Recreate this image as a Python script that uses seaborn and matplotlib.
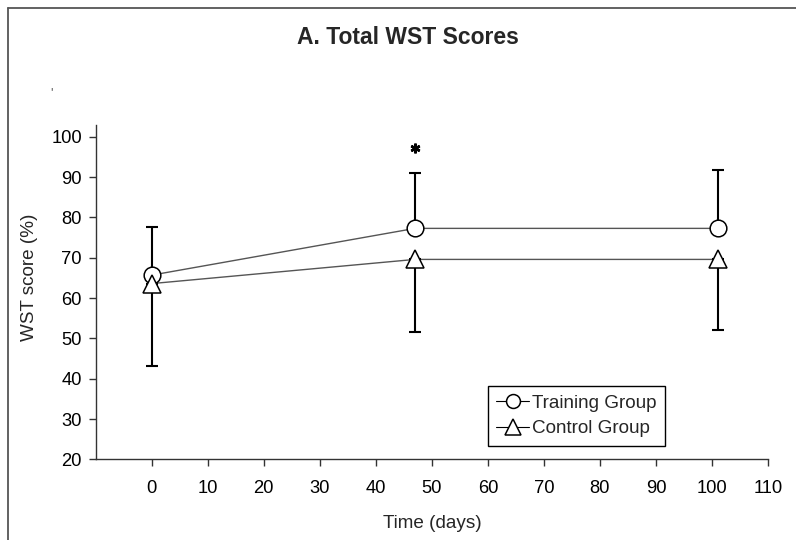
import matplotlib
matplotlib.use("Agg")
import matplotlib.pyplot as plt
from matplotlib.lines import Line2D
import seaborn as sns
import pandas as pd

# ---- data ----
days = [0, 47, 101]
training_mean = [65.7, 77.3, 77.3]
training_err_up = [11.9, 13.8, 14.4]
control_mean = [63.6, 69.6, 69.6]
control_err_down = [20.4, 18.1, 17.5]
star_x = [47]
star_y = [97.2]
x_ticks = [0, 10, 20, 30, 40, 50, 60, 70, 80, 90, 100, 110]
y_ticks = [20, 30, 40, 50, 60, 70, 80, 90, 100]
group_names = ["Training Group", "Control Group"]

sns.set_theme(style="ticks")
plt.rcParams["font.family"] = ["Liberation Sans", "DejaVu Sans"]

df = pd.DataFrame({
    "day": days * 2,
    "score": training_mean + control_mean,
    "group": [group_names[0]] * 3 + [group_names[1]] * 3,
})

fig = plt.figure(figsize=(7.96, 5.40), dpi=100)
ax = fig.add_axes([0.1202, 0.1494, 0.8446, 0.6195])

line_col = "#555555"
# connecting lines
sns.lineplot(data=df, x="day", y="score", hue="group",
             palette={group_names[0]: line_col, group_names[1]: line_col},
             linewidth=1.0, legend=False, ax=ax, zorder=1, errorbar=None)

# error bars (training up, control down)
ax.errorbar(days, training_mean, yerr=[[0] * 3, training_err_up], fmt="none",
            ecolor="black", elinewidth=1.5, capsize=4, capthick=1.5, zorder=2)
ax.errorbar(days, control_mean, yerr=[control_err_down, [0] * 3], fmt="none",
            ecolor="black", elinewidth=1.5, capsize=4, capthick=1.5, zorder=2)

# markers
ax.plot(days, training_mean, linestyle="none", marker="o", markersize=12,
        markerfacecolor="white", markeredgecolor="black", markeredgewidth=1.1, zorder=3)
ax.plot(days, control_mean, linestyle="none", marker="^", markersize=13,
        markerfacecolor="white", markeredgecolor="black", markeredgewidth=1.1, zorder=3)

# significance star
ax.plot(star_x, star_y, linestyle="none", marker=(6, 2, 0), markersize=7,
        markeredgewidth=1.8, color="black", zorder=3)

ax.set_xlim(-10, 110)
ax.set_ylim(20, 103)
ax.set_xticks(x_ticks)
ax.set_yticks(y_ticks)
ax.tick_params(axis="both", direction="out", length=5, width=1, colors="#333333",
               labelsize=13.2, labelcolor="black")
ax.tick_params(axis="x", pad=10)
ax.tick_params(axis="y", pad=5)
for s in ["top", "right"]:
    ax.spines[s].set_visible(False)
for s in ["left", "bottom"]:
    ax.spines[s].set_color("#333333")
    ax.spines[s].set_linewidth(1.0)

ax.set_xlabel("Time (days)", fontsize=13.6, labelpad=13)
ax.set_ylabel("WST score (%)", fontsize=13.6)
ax.yaxis.set_label_coords(-0.0858, 0.545)

handles = [
    Line2D([], [], color="black", linewidth=0.8, marker="o", markersize=10,
           markerfacecolor="white", markeredgecolor="black", markeredgewidth=1.1),
    Line2D([], [], color="black", linewidth=0.8, marker="^", markersize=11,
           markerfacecolor="white", markeredgecolor="black", markeredgewidth=1.1),
]
leg = fig.legend(handles, group_names, loc="upper left",
                 bbox_to_anchor=(0.6127, 0.2852), fontsize=13.6, frameon=True,
                 fancybox=False, framealpha=1, edgecolor="black",
                 handlelength=1.75, handletextpad=0.15, labelspacing=0.45,
                 borderpad=0.45, borderaxespad=0)
leg.get_frame().set_linewidth(1.0)

fig.text(0.512, 0.931, "A. Total WST Scores", ha="center", va="center",
         fontsize=16.5, fontweight="bold")
fig.text(0.065, 0.827, "'", ha="center", va="center", fontsize=9, color="#555555")

# partial figure border (top and left only)
fig.add_artist(Line2D([8 / 796, 1.0], [1 - 7.5 / 540, 1 - 7.5 / 540],
                      transform=fig.transFigure, color="#555555", linewidth=1.3))
fig.add_artist(Line2D([8 / 796, 8 / 796], [0.0, 1 - 7.5 / 540],
                      transform=fig.transFigure, color="#555555", linewidth=1.3))

fig.savefig("out.png", dpi=100)
